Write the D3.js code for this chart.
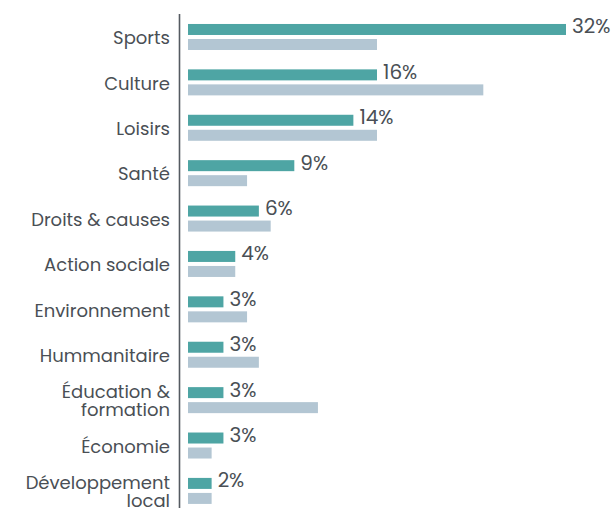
<!DOCTYPE html>
<html>
<head>
	<meta charset="utf-8">
	<title>Secteurs</title>
	<script src="https://d3js.org/d3.v7.min.js"></script>
	<style type="text/css">
		*
		{
			margin:0;
			padding:0;
		}
		body
		{
			background:#fff;
			font-family: "Poppins", "DejaVu Sans", sans-serif;
		}
		.cat
		{
			font-size: 18px;
			fill: #4a4f55;
		}
		.val
		{
			font-size: 20px;
			fill: #4a4f55;
		}
	</style>
</head>
<body>
	<div id="chart"></div>
	<script>
		// categories (multi-line labels split with \n)
		const categories = ["Sports", "Culture", "Loisirs", "Santé", "Droits & causes", "Action sociale",
			"Environnement", "Hummanitaire", "Éducation &\nformation", "Économie", "Développement\nlocal"];
		// first series (teal, labelled)
		const serieA = [32, 16, 14, 9, 6, 4, 3, 3, 3, 3, 2];
		// second series (grey, no labels)
		const serieB = [16, 25, 16, 5, 7, 4, 5, 6, 11, 2, 2];

		const width = 613;
		const height = 508;
		const axisX = 179.5;
		const barStart = 188;

		const svg = d3.select("#chart").append("svg").attr("width", width).attr("height", height);

		const xScale = d3.scaleLinear().domain([0, 32]).range([barStart, 566]);
		const yScale = d3.scaleBand()
			.domain(categories)
			.range([14.9, 513])
			.paddingInner(0.427)
			.paddingOuter(0.2);
		const inner = d3.scaleBand()
			.domain(["a", "b"])
			.range([0, yScale.bandwidth()])
			.paddingInner(0.267);

		// vertical axis line
		svg.append("line")
			.attr("x1", axisX).attr("x2", axisX)
			.attr("y1", 14).attr("y2", height)
			.attr("stroke", "#555b61")
			.attr("stroke-width", 1.6);

		const rows = svg.selectAll("g.row")
			.data(categories)
			.enter()
			.append("g")
			.attr("class", "row")
			.attr("transform", d => "translate(0," + yScale(d) + ")");

		rows.append("rect")
			.attr("x", barStart)
			.attr("y", inner("a"))
			.attr("width", (d, i) => xScale(serieA[i]) - barStart)
			.attr("height", inner.bandwidth())
			.attr("fill", "#4ea5a4");

		rows.append("rect")
			.attr("x", barStart)
			.attr("y", inner("b"))
			.attr("width", (d, i) => xScale(serieB[i]) - barStart)
			.attr("height", inner.bandwidth())
			.attr("fill", "#b3c6d3");

		rows.append("text")
			.attr("class", "val")
			.attr("x", (d, i) => xScale(serieA[i]) + 6)
			.attr("y", inner("a") + inner.bandwidth() / 2 - 3)
			.attr("dy", "0.35em")
			.text((d, i) => serieA[i] + "%");

		const lineH = 18;
		rows.append("text")
			.attr("class", "cat")
			.attr("text-anchor", "end")
			.each(function(d) {
				const lines = d.split("\n");
				const t = d3.select(this);
				const c = yScale.bandwidth() / 2 + 1;
				lines.forEach((l, k) => {
					t.append("tspan")
						.attr("x", 170)
						.attr("y", c + (k - (lines.length - 1) / 2) * lineH)
						.attr("dy", "0.35em")
						.text(l);
				});
			});
	</script>
</body>
</html>
